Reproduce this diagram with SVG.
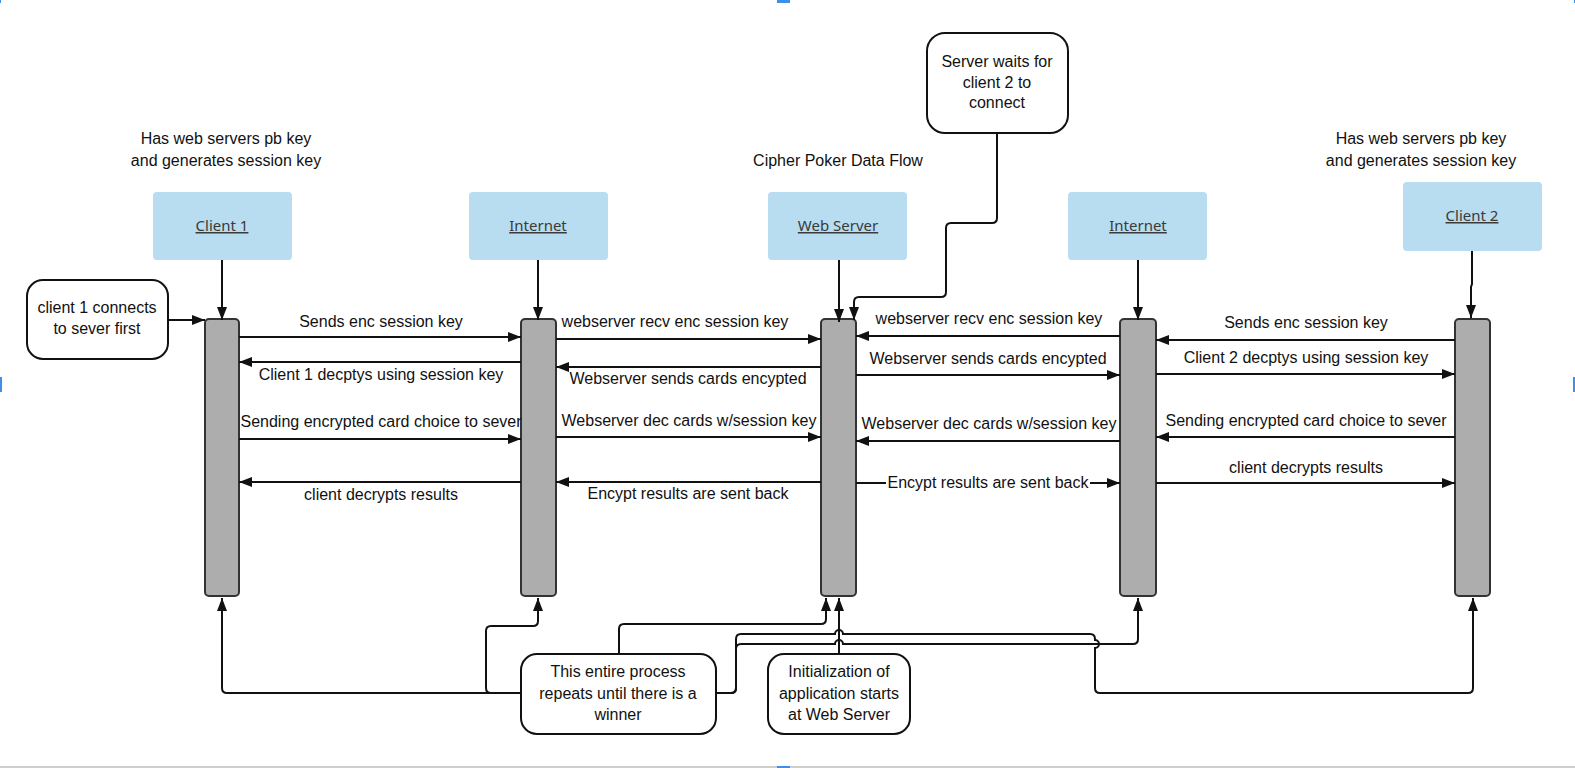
<svg xmlns="http://www.w3.org/2000/svg" width="1575" height="768" viewBox="0 0 1575 768">
  <style>
    .lbl { font-family: "Liberation Sans", Arial, sans-serif; font-size: 16px; fill: #111; }
    .mid { text-anchor: middle; }
    .head { fill: #b8dcf0; }
    .headtxt { font-family: "Noto Sans", "Open Sans", sans-serif; font-size: 15px; fill: #3a3a3a; text-anchor: middle; text-decoration: underline; }
    .bar { fill: #adadad; stroke: #333; stroke-width: 2; }
    .note { fill: #fff; stroke: #111; stroke-width: 2; }
    .wire { fill: none; stroke: #111; stroke-width: 2; }
    .handle { fill: #3d8fe8; }
  </style>
  <defs>
    <marker id="tip" markerUnits="userSpaceOnUse" markerWidth="14" markerHeight="12" refX="13" refY="5" orient="auto">
      <path d="M0,0 L13,5 L0,10 z" fill="#111"/>
    </marker>
  </defs>

  <rect width="1575" height="768" fill="#fff"/>

  <!-- canvas frame marks -->
  <g id="frame">
    <rect x="0" y="766" width="1575" height="2" fill="#cfcfcf"/>
    <rect class="handle" x="777" y="0" width="13" height="3"/>
    <rect class="handle" x="777" y="766" width="13" height="2"/>
    <rect class="handle" x="0" y="377" width="2" height="15"/>
    <rect class="handle" x="1573" y="377" width="2" height="15"/>
    <rect class="handle" x="0" y="0" width="1" height="3"/>
    <rect class="handle" x="1574" y="0" width="1" height="3"/>
  </g>

  <!-- titles and notes above -->
  <g id="title">
    <text class="lbl mid" x="838" y="166">Cipher Poker Data Flow</text>
  </g>
  <g id="client1-note">
    <text class="lbl mid" x="226" y="144">Has web servers pb key</text>
    <text class="lbl mid" x="226" y="166">and generates session key</text>
  </g>
  <g id="client2-note">
    <text class="lbl mid" x="1421" y="144">Has web servers pb key</text>
    <text class="lbl mid" x="1421" y="166">and generates session key</text>
  </g>

  <!-- participant headers -->
  <g id="client1">
    <rect class="head" x="153" y="192" width="139" height="68" rx="4"/>
    <text class="headtxt" x="222" y="231">Client 1</text>
  </g>
  <g id="internet1">
    <rect class="head" x="469" y="192" width="139" height="68" rx="4"/>
    <text class="headtxt" x="538" y="231">Internet</text>
  </g>
  <g id="webserver">
    <rect class="head" x="768" y="192" width="139" height="68" rx="4"/>
    <text class="headtxt" x="838" y="231">Web Server</text>
  </g>
  <g id="internet2">
    <rect class="head" x="1068" y="192" width="139" height="68" rx="4"/>
    <text class="headtxt" x="1138" y="231">Internet</text>
  </g>
  <g id="client2">
    <rect class="head" x="1403" y="182" width="139" height="69" rx="4"/>
    <text class="headtxt" x="1472" y="221">Client 2</text>
  </g>

  <!-- activation bars -->
  <g id="client1-bar"><rect class="bar" x="205" y="319" width="34" height="277" rx="4"/></g>
  <g id="internet1-bar"><rect class="bar" x="521" y="319" width="35" height="277" rx="4"/></g>
  <g id="webserver-bar"><rect class="bar" x="821" y="319" width="35" height="277" rx="4"/></g>
  <g id="internet2-bar"><rect class="bar" x="1120" y="319" width="36" height="277" rx="4"/></g>
  <g id="client2-bar"><rect class="bar" x="1455" y="319" width="35" height="277" rx="4"/></g>

  <!-- rounded annotation boxes -->
  <g id="client1-connects">
    <rect class="note" x="27" y="280" width="141" height="79" rx="16"/>
    <text class="lbl mid" x="97" y="313">client 1 connects</text>
    <text class="lbl mid" x="97" y="334">to sever first</text>
  </g>
  <g id="server-waits">
    <rect class="note" x="927" y="33" width="141" height="100" rx="18"/>
    <text class="lbl mid" x="997" y="67">Server waits for</text>
    <text class="lbl mid" x="997" y="88">client 2 to</text>
    <text class="lbl mid" x="997" y="108">connect</text>
  </g>
  <g id="repeat-note">
    <rect class="note" x="521" y="654" width="195" height="80" rx="16"/>
    <text class="lbl mid" x="618" y="677">This entire process</text>
    <text class="lbl mid" x="618" y="699">repeats until there is a</text>
    <text class="lbl mid" x="618" y="720">winner</text>
  </g>
  <g id="init-note">
    <rect class="note" x="768" y="654" width="142" height="80" rx="16"/>
    <text class="lbl mid" x="839" y="677">Initialization of</text>
    <text class="lbl mid" x="839" y="699">application starts</text>
    <text class="lbl mid" x="839" y="720">at Web Server</text>
  </g>

  <!-- connectors -->
  <g id="connectors" class="wire" marker-end="url(#tip)">
    <!-- headers to bars -->
    <path d="M222,260 V320"/>
    <path d="M538,260 V320"/>
    <path d="M839,260 V322"/>
    <path d="M1138,260 V320"/>
    <path d="M1472,251 V284 L1471,287 V318"/>
    <!-- side notes to bars -->
    <path d="M168,320 H205"/>
    <path d="M997,133 V218 Q997,223 992,223 H951 Q946,223 946,228 V292 Q946,297 941,297 H859 Q854,297 854,302 V320"/>

    <!-- Client 1 / Internet -->
    <path d="M239,337 H521"/>
    <path d="M521,362 H239"/>
    <path d="M239,439 H521"/>
    <path d="M521,482 H239"/>
    <!-- Internet / Web Server -->
    <path d="M556,339 H821"/>
    <path d="M821,367 H556"/>
    <path d="M556,437 H821"/>
    <path d="M821,482 H556"/>
    <!-- Web Server / Internet -->
    <path d="M1120,336 H856"/>
    <path d="M856,375 H1120"/>
    <path d="M1120,441 H856"/>
    <path d="M856,483 H886" marker-end="none"/>
    <path d="M1090,483 H1120"/>
    <!-- Internet / Client 2 -->
    <path d="M1455,340 H1156"/>
    <path d="M1156,374 H1455"/>
    <path d="M1455,437 H1156"/>
    <path d="M1156,483 H1455"/>

    <!-- loop back from the repeat note -->
    <path d="M521,693 H227 Q222,693 222,688 V598"/>
    <path d="M521,693 H491 Q486,693 486,688 V631 Q486,626 491,626 H533 Q538,626 538,621 V598"/>
    <path d="M619,654 V629 Q619,624 624,624 H821 Q826,624 826,619 V598"/>
    <path d="M716,693 H731 Q736,693 736,688 V639 Q736,634 741,634 H835 A4,4 0 0 1 843,634 H1090 Q1095,634 1095,639 V640 A4,4 0 0 1 1095,648 V688 Q1095,693 1100,693 H1468 Q1473,693 1473,688 V598"/>
    <path d="M716,693 H731 Q736,693 736,688 V649 Q736,644 741,644 H835 A4,4 0 0 1 843,644 H1133 Q1138,644 1138,639 V598"/>
    <!-- start of the application -->
    <path d="M839,654 V598"/>
  </g>

  <!-- message labels -->
  <g id="messages">
    <text class="lbl mid" x="381" y="327">Sends enc session key</text>
    <text class="lbl mid" x="381" y="380">Client 1 decptys using session key</text>
    <text class="lbl mid" x="381" y="427">Sending encrypted card choice to sever</text>
    <text class="lbl mid" x="381" y="500">client decrypts results</text>

    <text class="lbl mid" x="675" y="327">webserver recv enc session key</text>
    <text class="lbl mid" x="688" y="384">Webserver sends cards encypted</text>
    <text class="lbl mid" x="689" y="426">Webserver dec cards w/session key</text>
    <text class="lbl mid" x="688" y="499">Encypt results are sent back</text>

    <text class="lbl mid" x="989" y="324">webserver recv enc session key</text>
    <text class="lbl mid" x="988" y="364">Webserver sends cards encypted</text>
    <text class="lbl mid" x="989" y="429">Webserver dec cards w/session key</text>
    <text class="lbl mid" x="988" y="488">Encypt results are sent back</text>

    <text class="lbl mid" x="1306" y="328">Sends enc session key</text>
    <text class="lbl mid" x="1306" y="363">Client 2 decptys using session key</text>
    <text class="lbl mid" x="1306" y="426">Sending encrypted card choice to sever</text>
    <text class="lbl mid" x="1306" y="473">client decrypts results</text>
  </g>
</svg>
